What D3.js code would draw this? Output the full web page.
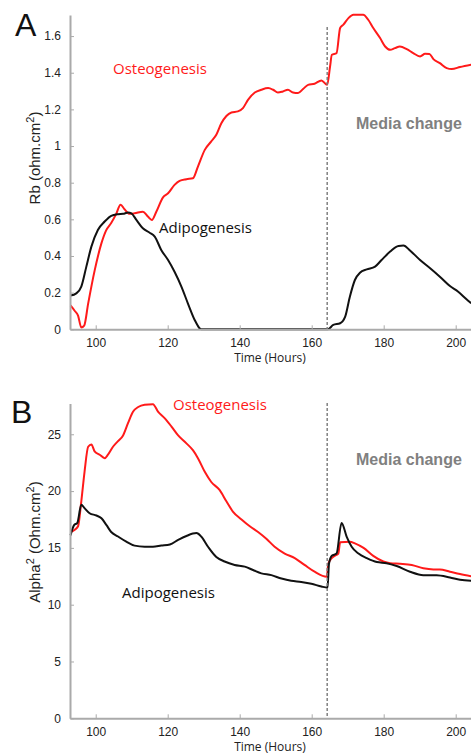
<!DOCTYPE html>
<html>
<head>
<meta charset="utf-8">
<script src="https://cdn.jsdelivr.net/npm/d3@7"></script>
<style>
  body { margin: 0; background: #fff; }
  svg { display: block; }
</style>
</head>
<body>
<script>
const w = 471;
const h = 756;

// time axis
const hourTicks = [100, 120, 140, 160, 180, 200];
const mediaChange = 164.3;

// panel A : Rb (ohm.cm2), [hours, value]
const rbTicks = [0, 0.2, 0.4, 0.6, 0.8, 1, 1.2, 1.4, 1.6];
const rbOsteo = [[93.0,0.13],[94.2,0.10],[95.1,0.075],[96.0,0.01],[96.8,0.02],[97.9,0.14],[99.7,0.32],[101.6,0.47],[102.9,0.54],[104.3,0.58],[105.7,0.63],[106.9,0.68],[108.0,0.655],[109.4,0.63],[110.8,0.633],[113.1,0.642],[114.5,0.615],[115.6,0.597],[116.8,0.64],[118.7,0.72],[120.1,0.742],[121.9,0.788],[123.3,0.81],[125.2,0.819],[127.0,0.824],[128.4,0.888],[130.3,0.979],[132.1,1.025],[133.5,1.061],[134.9,1.124],[136.3,1.164],[137.7,1.183],[139.5,1.189],[140.9,1.207],[142.3,1.252],[144.2,1.292],[146.0,1.307],[147.9,1.316],[149.3,1.307],[150.6,1.292],[152.0,1.298],[153.4,1.307],[154.8,1.292],[156.2,1.289],[157.6,1.311],[159.0,1.334],[160.8,1.34],[162.7,1.358],[164.3,1.334],[165.1,1.434],[165.6,1.498],[166.9,1.507],[167.9,1.644],[168.8,1.662],[170.2,1.698],[171.6,1.716],[174.3,1.716],[175.7,1.689],[177.1,1.644],[179.0,1.589],[180.4,1.543],[181.8,1.525],[183.1,1.534],[184.5,1.543],[186.4,1.529],[188.2,1.507],[190.1,1.489],[191.5,1.503],[192.7,1.502],[193.8,1.474],[195.6,1.452],[197.5,1.425],[198.9,1.42],[201.2,1.431],[204.3,1.444]];
const rbAdipo = [[93.0,0.184],[94.6,0.196],[96.0,0.233],[97.4,0.342],[98.8,0.451],[100.6,0.542],[102.5,0.588],[104.3,0.619],[106.2,0.628],[107.6,0.63],[109.0,0.637],[109.9,0.633],[111.3,0.597],[113.1,0.551],[115.0,0.527],[116.4,0.506],[118.2,0.433],[120.1,0.378],[121.9,0.314],[123.8,0.233],[125.6,0.142],[127.5,0.051],[128.9,0.005],[129.3,0],[164.5,0],[166.0,0.024],[167.9,0.033],[169.3,0.069],[170.6,0.178],[172.0,0.269],[173.4,0.309],[175.3,0.327],[177.6,0.342],[179.4,0.378],[181.8,0.424],[184.1,0.455],[185.5,0.457],[187.3,0.43],[190.1,0.378],[192.9,0.333],[195.6,0.287],[198.4,0.236],[200.7,0.205],[203.0,0.164],[204.3,0.142]];

// panel B : Alpha^2 (Ohm.cm2), [hours, value]
const alphaTicks = [0, 5, 10, 15, 20, 25];
const alphaOsteo = [[93.0,16.4],[94.2,16.6],[95.1,16.9],[96.0,19.1],[96.9,21.7],[97.9,23.9],[98.8,24.1],[99.7,23.5],[101.1,23.2],[102.5,22.9],[103.4,23.2],[104.8,23.9],[106.2,24.4],[107.6,24.9],[109.0,26.0],[110.4,27.0],[111.8,27.4],[113.6,27.6],[115.9,27.65],[117.3,27.0],[119.2,26.4],[121.0,25.7],[122.9,24.9],[125.2,24.2],[127.0,23.6],[128.4,22.9],[130.3,21.7],[132.1,20.8],[134.4,20.1],[136.3,19.1],[138.1,18.2],[140.5,17.5],[142.8,16.9],[145.1,16.4],[147.4,15.8],[149.7,15.1],[152.5,14.5],[155.3,14.1],[158.0,13.5],[160.8,12.9],[164.2,12.45],[164.6,13.6],[165.3,14.0],[166.4,14.3],[167.4,14.5],[167.9,15.5],[170.6,15.55],[172.0,15.4],[174.4,15.0],[177.1,14.3],[179.9,13.8],[181.8,13.65],[184.5,13.6],[187.8,13.5],[191.0,13.2],[193.8,13.1],[195.6,13.1],[198.4,12.9],[201.2,12.7],[204.3,12.5]];
const alphaAdipo = [[93.0,16.1],[94.0,17.0],[94.9,17.2],[96.0,18.8],[96.9,18.5],[98.3,18.05],[100.2,17.85],[101.6,17.6],[103.0,17.0],[104.3,16.4],[106.2,16.0],[108.5,15.55],[110.8,15.2],[113.6,15.1],[115.9,15.1],[118.2,15.2],[120.6,15.3],[122.9,15.7],[125.2,16.05],[128.0,16.3],[129.3,16.0],[131.2,15.1],[133.5,14.2],[135.8,13.8],[138.6,13.5],[141.4,13.35],[143.7,13.05],[146.0,12.76],[148.8,12.6],[151.6,12.3],[154.3,12.1],[157.1,12.0],[159.9,11.85],[162.7,11.6],[164.4,11.5],[164.8,13.6],[165.6,14.3],[166.9,14.5],[168.3,17.2],[169.7,16.0],[171.1,15.1],[173.0,14.5],[175.3,14.1],[178.1,13.75],[180.8,13.65],[183.6,13.4],[187.3,12.9],[191.0,12.6],[194.7,12.6],[198.4,12.4],[201.2,12.2],[204.3,12.1]];

const axisColor = "#aaaaaa";
const tickFont = "'Liberation Sans', Arial, sans-serif";
const labelFont = "'Open Sans', 'Noto Sans', sans-serif";

const xScale = d3.scaleLinear()
                 .domain([92.86, 204.25])
                 .range([70, 471]);

const svg = d3.select("body")
              .append("svg")
              .attr("width", w)
              .attr("height", h);

function drawPanel(p) {
  const yScale = d3.scaleLinear()
                   .domain(p.yDomain)
                   .range([p.bottom, p.top]);

  const g = svg.append("g");

  // lines
  const line = d3.line()
                 .x(d => xScale(d[0]))
                 .y(d => yScale(d[1]))
                 .curve(d3.curveMonotoneX);

  g.append("path")
   .datum(p.osteo)
   .attr("d", line)
   .attr("fill", "none")
   .attr("stroke", "#ff1a1a")
   .attr("stroke-width", 2);

  g.append("path")
   .datum(p.adipo)
   .attr("d", line)
   .attr("fill", "none")
   .attr("stroke", "#111")
   .attr("stroke-width", 2);

  // media change marker
  g.append("line")
   .attr("x1", xScale(mediaChange))
   .attr("x2", xScale(mediaChange))
   .attr("y1", p.dashTop)
   .attr("y2", p.bottom)
   .attr("stroke", "#777")
   .attr("stroke-width", 1.4)
   .attr("stroke-dasharray", "3,2");

  // axes
  const xAxis = d3.axisBottom(xScale)
                  .tickValues(hourTicks)
                  .tickSizeInner(-4)
                  .tickSizeOuter(0)
                  .tickPadding(9);
  const yAxis = d3.axisLeft(yScale)
                  .tickValues(p.yTicks)
                  .tickFormat(d3.format("~g"))
                  .tickSizeInner(-4)
                  .tickSizeOuter(0)
                  .tickPadding(9);

  const gx = g.append("g")
              .attr("transform", "translate(0," + p.bottom + ")")
              .call(xAxis);
  const gy = g.append("g")
              .attr("transform", "translate(70,0)")
              .call(yAxis);

  [gx, gy].forEach(a => {
    a.select(".domain").attr("stroke", axisColor).attr("stroke-width", 2);
    a.selectAll(".tick line").attr("stroke", axisColor).attr("stroke-width", 1);
    a.selectAll(".tick text")
     .attr("fill", "#222")
     .style("font-family", tickFont)
     .style("font-size", "12px");
  });

  // axis titles
  g.append("text")
   .attr("x", 270)
   .attr("y", p.timeY)
   .attr("text-anchor", "middle")
   .style("font-family", labelFont)
   .style("font-size", "12px")
   .attr("fill", "#222")
   .text("Time (Hours)");

  const yt = g.append("text")
              .attr("transform", "translate(40," + p.yLabelY + ") rotate(-90)")
              .attr("text-anchor", "middle")
              .style("font-family", tickFont)
              .style("font-size", "15px")
              .attr("fill", "#222");
  p.yLabel.forEach(part => {
    if (part.sup) {
      yt.append("tspan").attr("dy", -6).style("font-size", "11px").text(part.t);
    } else {
      yt.append("tspan").attr("dy", part.after ? 6 : 0).text(part.t);
    }
  });

  // panel letter
  svg.append("text")
     .attr("x", p.letterX)
     .attr("y", p.letterY)
     .style("font-family", tickFont)
     .style("font-size", "32px")
     .attr("fill", "#111")
     .text(p.letter);

  // annotations
  svg.append("text")
     .attr("x", p.osteoLabel[0])
     .attr("y", p.osteoLabel[1])
     .style("font-family", labelFont)
     .style("font-size", "15px")
     .attr("fill", "#ff1a1a")
     .text("Osteogenesis");

  svg.append("text")
     .attr("x", p.adipoLabel[0])
     .attr("y", p.adipoLabel[1])
     .style("font-family", labelFont)
     .style("font-size", "15px")
     .attr("fill", "#111")
     .text("Adipogenesis");

  svg.append("text")
     .attr("x", 356)
     .attr("y", p.mediaY)
     .style("font-family", tickFont)
     .style("font-weight", "bold")
     .style("font-size", "16px")
     .attr("fill", "#808080")
     .text("Media change");
}

drawPanel({
  letter: "A", letterX: 15, letterY: 36,
  yDomain: [0, 1.715], yTicks: rbTicks,
  top: 15, bottom: 329.3, dashTop: 27,
  osteo: rbOsteo, adipo: rbAdipo,
  timeY: 362, yLabelY: 158,
  yLabel: [{t: "Rb (ohm.cm"}, {t: "2", sup: true}, {t: ")", after: true}],
  osteoLabel: [113, 74], adipoLabel: [159, 233], mediaY: 129
});

drawPanel({
  letter: "B", letterX: 11, letterY: 423,
  yDomain: [0, 27.7], yTicks: alphaTicks,
  top: 403.6, bottom: 718.3, dashTop: 403,
  osteo: alphaOsteo, adipo: alphaAdipo,
  timeY: 751, yLabelY: 542,
  yLabel: [{t: "Alpha"}, {t: "2", sup: true}, {t: " (Ohm.cm", after: true}, {t: "2", sup: true}, {t: ")", after: true}],
  osteoLabel: [173, 410], adipoLabel: [122, 598], mediaY: 465
});
</script>
</body>
</html>
